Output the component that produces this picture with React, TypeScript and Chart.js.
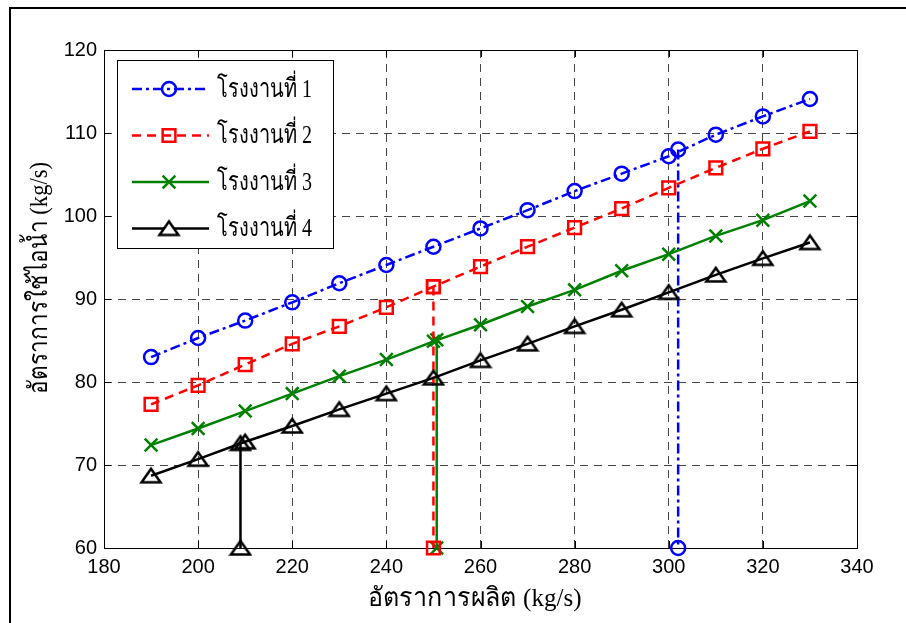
import React, { useEffect, useRef } from "react";
import { Chart, registerables } from "chart.js";

Chart.register(...registerables);

const xValues = [190, 200, 210, 220, 230, 240, 250, 260, 270, 280, 290, 300, 310, 320, 330];
const plant1 = [83.0, 85.3, 87.4, 89.6, 91.9, 94.1, 96.3, 98.5, 100.7, 103.0, 105.1, 107.2, 109.8, 112.0, 114.1];
const plant2 = [77.3, 79.6, 82.1, 84.6, 86.7, 89.0, 91.5, 93.9, 96.3, 98.6, 100.9, 103.4, 105.8, 108.1, 110.2];
const plant3 = [72.4, 74.4, 76.5, 78.6, 80.7, 82.7, 84.9, 86.9, 89.1, 91.1, 93.4, 95.4, 97.6, 99.5, 101.8];
const plant4 = [68.7, 70.7, 72.8, 74.7, 76.7, 78.6, 80.5, 82.6, 84.6, 86.7, 88.7, 90.8, 92.9, 94.9, 96.8];

// operating points (x, y) and the drop to the bottom of the axis
const dropX = [302, 250, 250.7, 209];
const dropTopY = [108.0, 91.5, 85.1, 72.6];
const dropBottomY = 60;

const seriesLabels = ["โรงงานที่ 1", "โรงงานที่ 2", "โรงงานที่ 3", "โรงงานที่ 4"];
const xTitle = "อัตราการผลิต (kg/s)";
const yTitle = "อัตราการใช้ไอน้ำ (kg/s)";
const xMin = 180, xMax = 340, xStep = 20;
const yMin = 60, yMax = 120, yStep = 10;

const colors = ["#0000ff", "#ff0000", "#008000", "#000000"];
const dashes = [[10, 4, 3, 4], [9, 6], [], []];
const pointRadii = [7, 9, 9, 9];

const THAI = "'Liberation Serif', 'DejaVu Serif', serif";
const SANS = "'Liberation Sans', Arial, sans-serif";

function makeTriangle(color: string): HTMLCanvasElement {
  const c = document.createElement("canvas");
  c.width = 24;
  c.height = 20;
  const g = c.getContext("2d")!;
  g.strokeStyle = color;
  g.lineWidth = 2.5;
  g.lineJoin = "miter";
  g.beginPath();
  g.moveTo(12, 3);
  g.lineTo(21.5, 16.5);
  g.lineTo(2.5, 16.5);
  g.closePath();
  g.stroke();
  return c;
}

function drawMarker(ctx: CanvasRenderingContext2D, i: number, x: number, y: number, tri: HTMLCanvasElement) {
  const r = pointRadii[i];
  ctx.beginPath();
  if (i === 0) {
    ctx.arc(x, y, r, 0, Math.PI * 2);
    ctx.stroke();
  } else if (i === 1) {
    const s = r * Math.SQRT1_2;
    ctx.rect(x - s, y - s, 2 * s, 2 * s);
    ctx.stroke();
  } else if (i === 2) {
    const s = r * Math.SQRT1_2;
    ctx.moveTo(x - s, y - s);
    ctx.lineTo(x + s, y + s);
    ctx.moveTo(x - s, y + s);
    ctx.lineTo(x + s, y - s);
    ctx.stroke();
  } else {
    ctx.fillStyle = "#fff";
    ctx.beginPath();
    ctx.moveTo(x, y - 7);
    ctx.lineTo(x + 9.5, y + 6.5);
    ctx.lineTo(x - 9.5, y + 6.5);
    ctx.closePath();
    ctx.fill();
    ctx.drawImage(tri, x - tri.width / 2, y - tri.height / 2);
  }
}

export default function App() {
  const ref = useRef<HTMLCanvasElement | null>(null);
  useEffect(() => {
    document.body.style.margin = "0";
    const canvas = ref.current;
    if (!canvas) return;
    const tri = makeTriangle("#000000");
    const pointStyles: any[] = ["circle", "rect", "crossRot", tri];

    const framePlugin = {
      id: "framePlugin",
      beforeDraw(chart: any) {
        const ctx = chart.ctx as CanvasRenderingContext2D;
        ctx.save();
        ctx.fillStyle = "#ffffff";
        ctx.fillRect(0, 0, chart.width, chart.height);
        ctx.strokeStyle = "#000";
        ctx.lineWidth = 2;
        ctx.beginPath();
        ctx.moveTo(10, chart.height);
        ctx.lineTo(10, 8);
        ctx.lineTo(chart.width, 8);
        ctx.stroke();
        ctx.restore();
      },
      beforeDatasetsDraw(chart: any) {
        const ctx = chart.ctx as CanvasRenderingContext2D;
        const { left, right, top, bottom } = chart.chartArea;
        const xs = chart.scales.x;
        const ys = chart.scales.y;
        ctx.save();
        ctx.strokeStyle = "#000";
        ctx.lineWidth = 1;
        ctx.setLineDash([]);
        ctx.strokeRect(Math.round(left) + 0.5, Math.round(top) + 0.5, Math.round(right - left), Math.round(bottom - top));
        const tl = 7;
        ctx.beginPath();
        for (let v = xMin; v <= xMax; v += xStep) {
          const px = Math.round(xs.getPixelForValue(v)) + 0.5;
          ctx.moveTo(px, bottom);
          ctx.lineTo(px, bottom - tl);
          ctx.moveTo(px, top);
          ctx.lineTo(px, top + tl);
        }
        for (let v = yMin; v <= yMax; v += yStep) {
          const py = Math.round(ys.getPixelForValue(v)) + 0.5;
          ctx.moveTo(left, py);
          ctx.lineTo(left + tl, py);
          ctx.moveTo(right, py);
          ctx.lineTo(right - tl, py);
        }
        ctx.stroke();
        ctx.restore();
      },
      afterDraw(chart: any) {
        const ctx = chart.ctx as CanvasRenderingContext2D;
        const { left, right } = chart.chartArea;
        ctx.save();
        ctx.fillStyle = "#000";
        ctx.font = `26px ${THAI}`;
        ctx.textAlign = "center";
        ctx.textBaseline = "middle";
        ctx.fillText(xTitle, (left + right) / 2 - 6, 599, 214);
        ctx.save();
        ctx.translate(40, 278);
        ctx.rotate(-Math.PI / 2);
        ctx.fillText(yTitle, 0, 0, 232);
        ctx.restore();

        // legend
        const lx = 117, ly = 60, lw = 216, lh = 188;
        ctx.fillStyle = "#fff";
        ctx.fillRect(lx, ly, lw, lh);
        ctx.strokeStyle = "#000";
        ctx.lineWidth = 1;
        ctx.setLineDash([]);
        ctx.strokeRect(lx + 0.5, ly + 0.5, lw, lh);
        const rowY = [89, 135.5, 182, 228.5];
        for (let i = 0; i < seriesLabels.length; i++) {
          const y = rowY[i];
          ctx.strokeStyle = colors[i];
          ctx.lineWidth = 2.5;
          ctx.setLineDash(dashes[i]);
          ctx.beginPath();
          ctx.moveTo(132, y);
          ctx.lineTo(209, y);
          ctx.stroke();
          ctx.setLineDash([]);
          drawMarker(ctx, i, 169, y, tri);
          ctx.fillStyle = "#000";
          ctx.textAlign = "left";
          ctx.textBaseline = "middle";
          ctx.font = `26px ${THAI}`;
          ctx.fillText(seriesLabels[i], 217, y + 1, 95);
        }
        ctx.restore();
      },
    };

    const seriesData = [plant1, plant2, plant3, plant4];
    const datasets: any[] = [];
    seriesData.forEach((vals, i) => {
      datasets.push({
        label: seriesLabels[i],
        data: xValues.map((x, k) => ({ x, y: vals[k] })),
        borderColor: colors[i],
        backgroundColor: "transparent",
        borderWidth: 2.5,
        borderDash: dashes[i],
        pointStyle: pointStyles[i],
        pointRadius: pointRadii[i],
        pointBorderWidth: 2.5,
        pointBorderColor: colors[i],
        pointBackgroundColor: "transparent",
        showLine: true,
        tension: 0,
        clip: false,
      });
    });
    dropX.forEach((x, i) => {
      datasets.push({
        label: "_drop" + i,
        data: [
          { x, y: dropTopY[i] },
          { x, y: dropBottomY },
        ],
        borderColor: colors[i],
        backgroundColor: "transparent",
        borderWidth: 2.5,
        borderDash: dashes[i],
        pointStyle: pointStyles[i],
        pointRadius: pointRadii[i],
        pointBorderWidth: 2.5,
        pointBorderColor: colors[i],
        pointBackgroundColor: "transparent",
        showLine: true,
        clip: false,
      });
    });
    const chart = new Chart(canvas, {
      type: "scatter",
      data: { datasets },
      options: {
        animation: false,
        responsive: false,
        maintainAspectRatio: false,
        layout: { padding: { left: 0, top: 50, right: 49, bottom: 0 } },
        plugins: { legend: { display: false }, tooltip: { enabled: false } },
        scales: {
          x: {
            type: "linear",
            min: xMin,
            max: xMax,
            ticks: { stepSize: xStep, color: "#000", font: { family: SANS, size: 20 }, padding: 7 },
            grid: { color: "#444", lineWidth: 1, drawTicks: false },
            border: { display: false, dash: [8, 6] },
            afterFit: (s: any) => {
              s.height = 75;
            },
          },
          y: {
            type: "linear",
            min: yMin,
            max: yMax,
            ticks: { stepSize: yStep, color: "#000", font: { family: SANS, size: 20 }, padding: 7 },
            grid: { color: "#444", lineWidth: 1, drawTicks: false },
            border: { display: false, dash: [8, 6] },
            afterFit: (s: any) => {
              s.width = 104;
            },
          },
        },
      },
      plugins: [framePlugin],
    });
    return () => chart.destroy();
  }, []);
  return <canvas ref={ref} width={906} height={623} style={{ display: "block" }} />;
}
